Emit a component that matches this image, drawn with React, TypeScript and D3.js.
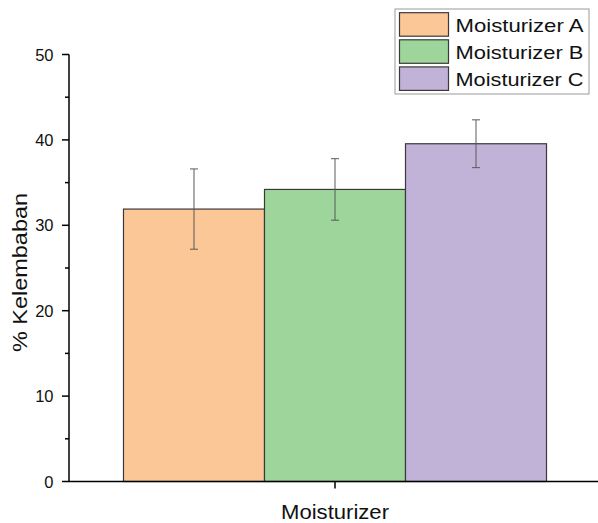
import React from "react";
import * as d3 from "d3";

const groups = ["Moisturizer"];
const series = ["Moisturizer A", "Moisturizer B", "Moisturizer C"];
const values = [31.9, 34.2, 39.55];
const errors = [4.7, 3.6, 2.8];
const colors = ["#FCC797", "#9DD59B", "#C1B2D7"];
const yTicks = [0, 10, 20, 30, 40, 50];
const yMinorTicks = [5, 15, 25, 35, 45];

export default function App() {
  const W = 598, H = 523;
  const left = 69, right = 601, top = 54.5, bottom = 481.5;
  const y = d3.scaleLinear().domain([0, 50]).range([bottom, top]);
  const x0 = d3.scaleBand().domain(groups).range([left, right]).paddingInner(0).paddingOuter(0.1288);
  const x1 = d3.scaleBand().domain(series).range([0, x0.bandwidth()]).padding(0);
  const font = "Arial, 'Liberation Sans', sans-serif";
  return (
    <svg width={W} height={H} style={{ position: "absolute", left: 0, top: 0, background: "#fff" }} fontFamily={font}>
      {/* bars */}
      {series.map((s, i) => {
        const gx = x0(groups[0])! + x1(s)!;
        return (
          <rect key={s} x={gx} y={y(values[i])} width={x1.bandwidth()} height={y(0) - y(values[i])}
            fill={colors[i]} stroke="#3a3a3a" strokeWidth={1.2} />
        );
      })}
      {/* error bars */}
      {series.map((s, i) => {
        const cx = x0(groups[0])! + x1(s)! + x1.bandwidth() / 2;
        const y1 = y(values[i] + errors[i]);
        const y2 = y(values[i] - errors[i]);
        return (
          <g key={"e" + s} stroke="#5a5a5a" strokeWidth={1}>
            <line x1={cx} x2={cx} y1={y1} y2={y2} />
            <line x1={cx - 4} x2={cx + 4} y1={y1} y2={y1} />
            <line x1={cx - 4} x2={cx + 4} y1={y2} y2={y2} />
          </g>
        );
      })}
      {/* y axis */}
      <line x1={left} x2={left} y1={top} y2={bottom} stroke="#000" strokeWidth={1.5} />
      {yTicks.map(t => (
        <g key={t}>
          <line x1={left - 7} x2={left} y1={y(t)} y2={y(t)} stroke="#000" strokeWidth={1.5} />
          <text x={53.5} y={y(t) + 6} textAnchor="end" fontSize={16.5} fill="#111">{t}</text>
        </g>
      ))}
      {yMinorTicks.map(t => (
        <line key={t} x1={left - 4} x2={left} y1={y(t)} y2={y(t)} stroke="#000" strokeWidth={1.5} />
      ))}
      {/* x axis */}
      <line x1={left} x2={right} y1={bottom} y2={bottom} stroke="#000" strokeWidth={1.5} />
      <line x1={x0(groups[0])! + x0.bandwidth() / 2} x2={x0(groups[0])! + x0.bandwidth() / 2} y1={bottom} y2={bottom + 7} stroke="#000" strokeWidth={1.5} />
      <text x={x0(groups[0])! + x0.bandwidth() / 2} y={519} textAnchor="middle" fontSize={20} fill="#111"
        textLength={108} lengthAdjust="spacingAndGlyphs">{groups[0]}</text>
      {/* y label */}
      <text transform={`translate(26.5, ${(193 + 352) / 2}) rotate(-90)`} textAnchor="middle" fontSize={21}
        fill="#111" textLength={159} lengthAdjust="spacingAndGlyphs">% Kelembaban</text>
      {/* legend */}
      <rect x={395} y={9} width={194} height={85} fill="#fff" stroke="#9a9a9a" strokeWidth={1} />
      {series.map((s, i) => (
        <g key={"l" + s}>
          <rect x={399.5} y={12.7 + i * 27.1} width={49} height={23.5} fill={colors[i]} stroke="#3a3a3a" strokeWidth={1.2} />
          <text x={455.5} y={31.7 + i * 27.1} fontSize={19} fill="#111" textLength={128} lengthAdjust="spacingAndGlyphs">{s}</text>
        </g>
      ))}
    </svg>
  );
}
